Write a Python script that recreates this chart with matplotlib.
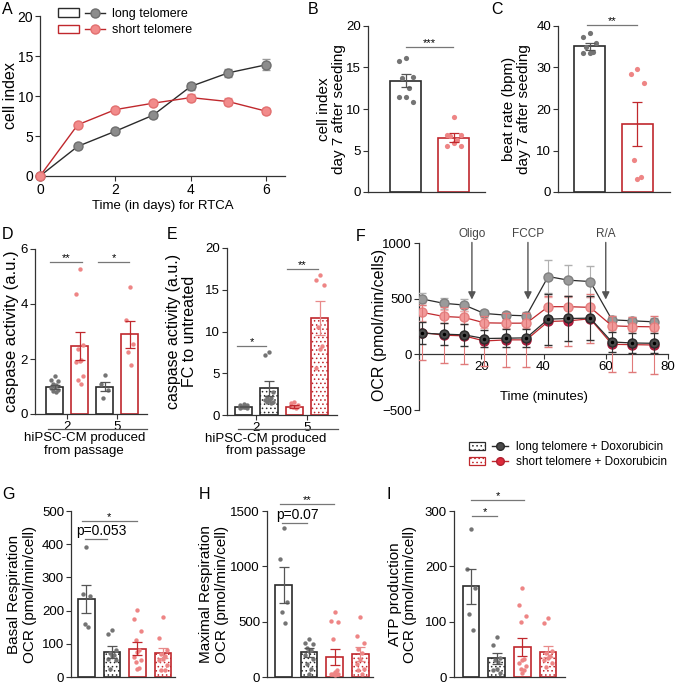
import numpy as np
import matplotlib.pyplot as plt
from matplotlib.patches import Patch
from matplotlib.lines import Line2D
from matplotlib.legend_handler import HandlerTuple

plt.rcParams['font.family'] = ['Liberation Sans', 'DejaVu Sans']
plt.rcParams['hatch.linewidth'] = 0.6

# couleurs
noir = '#2b2b2b'
rouge = '#c0282d'
gris_pt = '#747474'
rouge_pt = '#ee8585'

# ---- A : RTCA ----
jours = [0, 1, 2, 3, 4, 5, 6]
long_ci = [0, 3.7, 5.6, 7.6, 11.2, 12.9, 13.9]
long_ci_err = [0, 0.2, 0.2, 0.4, 0.4, 0.5, 0.7]
short_ci = [0, 6.4, 8.3, 9.1, 9.8, 9.3, 8.1]
short_ci_err = [0, 0.2, 0.2, 0.2, 0.4, 0.4, 0.4]

# ---- B : cell index jour 7 ----
b_moy = [13.4, 6.55]
b_sem = [0.8, 0.5]
b_long = [16.2, 15.8, 13.8, 13.7, 12.5, 11.4, 11.5, 10.9]
b_short = [9.0, 6.9, 6.9, 6.7, 6.3, 5.9, 5.6, 5.5]

# ---- C : beat rate ----
c_moy = [35.1, 16.4]
c_sem = [0.8, 5.3]
c_long = [38.2, 37.3, 35.9, 34.9, 33.7, 33.5, 33.5]
c_short = [29.7, 28.5, 26.3, 7.6, 3.2, 3.6]

# ---- D : caspase ----
d_moy = [0.98, 2.48, 0.99, 2.9]
d_sem = [0.07, 0.5, 0.17, 0.5]
d_pts = [
    [1.37, 1.25, 1.2, 1.1, 1.05, 1.0, 0.95, 0.88, 0.82, 0.8],
    [5.27, 4.35, 2.52, 2.35, 1.97, 1.93, 1.9, 1.37, 1.22, 1.1],
    [1.43, 1.1, 0.88, 0.58],
    [4.63, 3.43, 2.55, 2.25, 1.79],
]
passages = ['2', '5']

# ---- E : caspase FC ----
e_moy = [1.0, 3.2, 1.0, 11.6]
e_sem = [0.06, 0.9, 0.15, 2.05]
e_pts = [
    [1.3, 1.2, 1.15, 1.0, 0.95, 0.9, 0.85, 0.8],
    [7.6, 7.2, 2.8, 2.2, 2.0, 1.8, 1.8, 1.6, 1.6, 1.4],
    [1.4, 1.5, 1.2, 1.0, 0.8],
    [16.8, 16.2, 15.6, 10.5, 8.3, 7.9, 5.6],
]

# ---- F : Seahorse ----
temps_f = [1, 8, 14.5, 21, 28, 34.5, 41.5, 48, 55, 62, 68.5, 75.5]
ocr_long = [497, 458, 443, 367, 352, 346, 699, 666, 654, 310, 301, 292]
ocr_long_err = [55, 50, 50, 35, 30, 30, 150, 140, 140, 30, 30, 30]
ocr_short = [377, 340, 331, 283, 280, 280, 428, 428, 422, 256, 250, 247]
ocr_short_err = [80, 60, 60, 45, 40, 40, 90, 90, 90, 40, 40, 40]
ocr_long_dox = [190, 181, 175, 142, 145, 148, 316, 322, 325, 111, 102, 99]
ocr_long_dox_err = [100, 100, 100, 80, 80, 80, 230, 200, 200, 90, 90, 90]
ocr_short_dox = [196, 172, 166, 120, 130, 130, 295, 301, 319, 90, 87, 84]
ocr_short_dox_err = [250, 250, 250, 225, 245, 245, 233, 225, 220, 250, 250, 260]
injections = ['Oligo', 'FCCP', 'R/A']
temps_inj = [17, 35, 60]

# ---- G : basal ----
g_moy = [235, 75, 85, 73]
g_sem = [43, 17, 19, 15]
g_pts = [
    [392, 250, 243, 152, 160],
    [142, 130, 80, 72, 65, 62, 55, 50, 25],
    [203, 175, 140, 110, 80, 75, 60, 50, 28, 25, 45],
    [180, 118, 80, 70, 62, 55, 52, 35, 22, 22],
]

# ---- H : maximal ----
h_moy = [831, 222, 180, 210]
h_sem = [165, 42, 69, 62]
h_pts = [
    [1350, 1065, 675, 585, 489],
    [345, 309, 300, 264, 240, 234, 200, 165, 120, 75, 30],
    [585, 510, 495, 345, 60, 30, 24, 15, 24, 30, 45],
    [540, 369, 309, 255, 219, 165, 120, 75, 66, 30],
]

# ---- I : ATP ----
i_moy = [164, 34, 54, 46]
i_sem = [32, 10, 16, 10]
i_pts = [
    [267, 196, 160, 113, 85],
    [73, 57, 35, 30, 28, 15, 12, 8],
    [160, 131, 111, 100, 32, 26, 20, 14, 12, 8, 30],
    [106, 97, 47, 44, 38, 35, 30, 26, 18],
]

W, H = 676, 685
fig = plt.figure(figsize=(W / 100, H / 100), dpi=100)


def add_ax(l, t, r, b, ts=9.5):
    ax = fig.add_axes([l / W, 1 - b / H, (r - l) / W, (b - t) / H])
    for s in ['top', 'right']:
        ax.spines[s].set_visible(False)
    for s in ['left', 'bottom']:
        ax.spines[s].set_color('#333333')
        ax.spines[s].set_linewidth(0.9)
    ax.tick_params(direction='out', length=3.5, width=0.8, color='#333333',
                   labelsize=ts, pad=1.5)
    return ax


def lettre(x, y, t):
    fig.text(x / W, 1 - y / H, t, fontsize=11.5, va='top', ha='left')


def spread(vals, w):
    vals = np.asarray(vals)
    order = np.argsort(-vals)
    cyc = np.array([0, -1, 1, -0.5, 0.5])
    offs = np.empty(len(vals))
    offs[order] = w * cyc[np.arange(len(vals)) % 5]
    return offs


def sig(ax, x0, x1, y, txt, fs=8, dy=0.5, xt=None):
    ax.plot([x0, x1], [y, y], color='#777777', lw=0.9, clip_on=False)
    if xt is None:
        xt = (x0 + x1) / 2
    ax.annotate(txt, xy=(xt, y), xytext=(0, dy), textcoords='offset points',
                ha='center', va='baseline', fontsize=fs, annotation_clip=False)


def barres(ax, moy, sem, pts, edges, hatches, ptcols, errcols, width, s=10):
    x = np.arange(len(moy))
    for i in range(len(moy)):
        ax.bar(x[i], moy[i], width=width, facecolor='white', edgecolor=edges[i],
               hatch=hatches[i], linewidth=1.2, zorder=1)
        xs = x[i] + spread(pts[i], width * 0.22)
        ax.scatter(xs, pts[i], s=s, color=ptcols[i], zorder=3, linewidths=0,
                   clip_on=False)
        ax.errorbar(x[i], moy[i], yerr=sem[i], color=errcols[i], capsize=3.5,
                    elinewidth=0.9, capthick=0.9, zorder=4)
    ax.set_xticks([])
    return x


# ---------- A ----------
axA = add_ax(40, 16, 285, 176, ts=10)
axA.errorbar(jours, long_ci, yerr=long_ci_err, color=noir, lw=1, marker='o', ms=6.5,
             mfc='#8c8c8c', mec='#6e6e6e', ecolor='#9a9a9a', capsize=3, elinewidth=0.9,
             clip_on=False, zorder=3)
axA.errorbar(jours, short_ci, yerr=short_ci_err, color=rouge, lw=1, marker='o', ms=6.5,
             mfc='#f28b8b', mec='#e27070', ecolor='#f0a0a0', capsize=3, elinewidth=0.9,
             clip_on=False, zorder=3)
axA.set_xlim(0, 6.5)
axA.set_ylim(0, 20)
axA.set_xticks([0, 2, 4, 6])
axA.set_yticks([0, 5, 10, 15, 20])
axA.set_xlabel('Time (in days) for RTCA', fontsize=9.5, labelpad=2)
axA.set_ylabel('cell index', fontsize=11.5)
axA.yaxis.set_label_coords(-0.09, 0.5)
hA = [(Patch(facecolor='white', edgecolor=noir, lw=1),
       Line2D([], [], color=noir, lw=1, marker='o', ms=6.5, mfc='#8c8c8c', mec='#6e6e6e')),
      (Patch(facecolor='white', edgecolor=rouge, lw=1),
       Line2D([], [], color=rouge, lw=1, marker='o', ms=6.5, mfc='#f28b8b', mec='#e27070'))]
fig.legend(hA, ['long telomere', 'short telomere'], loc='upper left',
           bbox_to_anchor=(58 / W, 1 - 8 / H), frameon=False, fontsize=9,
           handler_map={tuple: HandlerTuple(ndivide=None, pad=0.5)},
           handlelength=3.8, handletextpad=0.5, labelspacing=0.35,
           borderpad=0, borderaxespad=0)
lettre(2, 2, 'A')

# ---------- B ----------
axB = add_ax(368, 26, 485, 192)
barres(axB, b_moy, b_sem, [b_long, b_short], [noir, rouge], [None, None],
       [gris_pt, rouge_pt], ['#555555', rouge], 0.65, s=14)
axB.set_xlim(-0.79, 1.65)
axB.set_ylim(0, 20)
axB.set_yticks([0, 5, 10, 15, 20])
axB.set_ylabel('cell index\nday 7 after seeding', fontsize=11, linespacing=1.1)
axB.yaxis.set_label_coords(-0.19, 0.5)
sig(axB, 0, 0.98, 17.5, '***')
lettre(308, 2, 'B')

# ---------- C ----------
axC = add_ax(558, 26, 670, 192)
barres(axC, c_moy, c_sem, [c_long, c_short], [noir, rouge], [None, None],
       [gris_pt, rouge_pt], ['#555555', rouge], 0.65, s=14)
axC.set_xlim(-0.66, 1.68)
axC.set_ylim(0, 40)
axC.set_yticks([0, 10, 20, 30, 40])
axC.set_ylabel('beat rate (bpm)\nday 7 after seeding', fontsize=11, linespacing=1.1)
axC.yaxis.set_label_coords(-0.24, 0.5)
sig(axC, -0.05, 0.99, 40.3, '**')
lettre(491, 2, 'C')

# ---------- D ----------
axD = add_ax(35, 249, 147, 414)
barres(axD, d_moy, d_sem, d_pts, [noir, rouge, noir, rouge], [None] * 4,
       [gris_pt, rouge_pt, gris_pt, rouge_pt], ['#555555', rouge, '#555555', rouge], 0.68)
axD.set_xlim(-0.78, 3.7)
axD.set_ylim(0, 6)
axD.set_yticks([0, 2, 4, 6])
axD.set_xticks([0.5, 2.5])
axD.set_xticklabels(passages)
axD.set_ylabel('caspase activity (a.u.)', fontsize=12)
axD.yaxis.set_label_coords(-0.143, 0.5)
sig(axD, -0.18, 1.1, 5.53, '**')
sig(axD, 1.74, 2.98, 5.53, '*')
axD.plot([0.116, 1.0], [-0.091, -0.091], color='#555555', lw=0.9,
         transform=axD.transAxes, clip_on=False)
axD.text(0.44, -0.11, 'hiPSC-CM produced\nfrom passage', transform=axD.transAxes,
         ha='center', va='top', fontsize=9.5, linespacing=1.1)
lettre(2, 227, 'D')

# ---------- E ----------
axE = add_ax(227, 248, 337, 415)
barres(axE, e_moy, e_sem, e_pts, [noir, noir, rouge, rouge], [None, '....', None, '....'],
       [gris_pt, gris_pt, rouge_pt, rouge_pt], ['#555555', '#555555', rouge, '#e88a8a'], 0.67)
axE.set_xlim(-0.65, 3.67)
axE.set_ylim(0, 20)
axE.set_yticks([0, 5, 10, 15, 20])
axE.set_xticks([0.5, 2.5])
axE.set_xticklabels(passages)
axE.set_ylabel('caspase activity (a.u.)\nFC to untreated', fontsize=11.5, linespacing=1.1)
axE.yaxis.set_label_coords(-0.27, 0.5)
sig(axE, -0.25, 0.88, 8.3, '*')
sig(axE, 1.7, 2.92, 17.5, '**')
axE.plot([0.1, 1.01], [-0.084, -0.084], color='#555555', lw=0.9,
         transform=axE.transAxes, clip_on=False)
axE.text(0.35, -0.105, 'hiPSC-CM produced\nfrom passage', transform=axE.transAxes,
         ha='center', va='top', fontsize=9.5, linespacing=1.1)
lettre(167, 227, 'E')

# ---------- F ----------
axF = add_ax(419, 243, 668, 410)
axF.errorbar(temps_f, ocr_long, yerr=ocr_long_err, color=noir, lw=0.9, marker='o', ms=6.5,
             mfc='#9a9a9a', mec='#808080', ecolor='#b0b0b0', capsize=3, elinewidth=0.8, zorder=3)
axF.errorbar(temps_f, ocr_short, yerr=ocr_short_err, color=rouge, lw=0.9, marker='o', ms=6.5,
             mfc='#f29a9a', mec='#e58080', ecolor='#f0b0b0', capsize=3, elinewidth=0.8, zorder=3)
axF.errorbar(temps_f, ocr_short_dox, yerr=ocr_short_dox_err, color=rouge, lw=0.9, marker='o',
             ms=6.5, mfc='#cc1f45', mec='#a8193a', ecolor='#e07a7a', capsize=3,
             elinewidth=0.8, zorder=4)
axF.errorbar(temps_f, ocr_long_dox, yerr=ocr_long_dox_err, color=noir, lw=0.9, marker='o',
             ms=6.5, mfc='#4a4a4a', mec='#2a2a2a', ecolor='#333333', capsize=3,
             elinewidth=0.8, zorder=5)
axF.plot(temps_f, ocr_long_dox, ls='none', marker='o', ms=1.5, color='black', zorder=6)
axF.plot(temps_f, ocr_short_dox, ls='none', marker='o', ms=1.5, color='#3a0000', zorder=4.5)
axF.set_xlim(0, 80)
axF.set_ylim(-500, 1000)
axF.spines['bottom'].set_position(('data', 0))
axF.set_xticks([20, 40, 60, 80])
axF.set_yticks([-500, 0, 500, 1000])
axF.set_xlabel('Time (minutes)', fontsize=9.5)
axF.xaxis.set_label_coords(0.5, 0.115)
axF.set_ylabel('OCR (pmol/min/cells)', fontsize=11.5)
axF.yaxis.set_label_coords(-0.13, 0.51)
for nom, t in zip(injections, temps_inj):
    axF.annotate('', xy=(t, 467), xytext=(t, 1030),
                 arrowprops=dict(arrowstyle='-|>', color='#555555', lw=1, mutation_scale=11))
    axF.text(t, 1078, nom, ha='center', va='center', fontsize=8.5, color='#444444')
lettre(356, 229, 'F')

hF = [(Patch(facecolor='white', edgecolor=noir, hatch='....', lw=0.9),
       Line2D([], [], color=noir, lw=1, marker='o', ms=5.5, mfc='#4a4a4a', mec='#2a2a2a')),
      (Patch(facecolor='white', edgecolor=rouge, hatch='....', lw=0.9),
       Line2D([], [], color=rouge, lw=1, marker='o', ms=5.5, mfc='#dd2a3a', mec='#b02030'))]
fig.legend(hF, ['long telomere + Doxorubicin', 'short telomere + Doxorubicin'],
           loc='upper left', bbox_to_anchor=(469 / W, 1 - 441 / H), frameon=False,
           fontsize=8.5, handler_map={tuple: HandlerTuple(ndivide=None, pad=0.6)},
           handlelength=3.3, handletextpad=0.7, labelspacing=0.25,
           borderpad=0, borderaxespad=0)

# ---------- G, H, I ----------
edges4 = [noir, noir, rouge, rouge]
hatch4 = [None, '....', None, '....']
ptc4 = [gris_pt, gris_pt, rouge_pt, rouge_pt]
errc4 = ['#555555', '#555555', rouge, '#e88a8a']

axG = add_ax(71, 511, 175, 677)
barres(axG, g_moy, g_sem, g_pts, edges4, hatch4, ptc4, errc4, 0.65)
axG.set_xlim(-0.6, 3.47)
axG.set_ylim(0, 500)
axG.set_yticks([0, 100, 200, 300, 400, 500])
axG.set_ylabel('Basal Respiration\nOCR (pmol/min/cell)', fontsize=11, linespacing=1.15)
axG.yaxis.set_label_coords(-0.33, 0.5)
sig(axG, -0.18, 1.98, 470, '*')
sig(axG, -0.06, 0.8, 416, 'p=0.053', fs=10, dy=2.5, xt=0.6)
lettre(2, 487, 'G')

axH = add_ax(267, 511, 373, 677)
barres(axH, h_moy, h_sem, h_pts, edges4, hatch4, ptc4, errc4, 0.65)
axH.set_xlim(-0.65, 3.5)
axH.set_ylim(0, 1500)
axH.set_yticks([0, 500, 1000, 1500])
axH.set_ylabel('Maximal Respiration\nOCR (pmol/min/cell)', fontsize=11, linespacing=1.15)
axH.yaxis.set_label_coords(-0.36, 0.5)
sig(axH, -0.14, 1.98, 1563, '**')
sig(axH, -0.06, 0.92, 1392, 'p=0.07', fs=10, dy=2.5, xt=0.53)
lettre(199, 487, 'H')

axI = add_ax(454, 511, 565, 677)
barres(axI, i_moy, i_sem, i_pts, edges4, hatch4, ptc4, errc4, 0.64)
axI.set_xlim(-0.66, 3.66)
axI.set_ylim(0, 300)
axI.set_yticks([0, 100, 200, 300])
axI.set_ylabel('ATP production\nOCR (pmol/min/cell)', fontsize=11, linespacing=1.15)
axI.yaxis.set_label_coords(-0.33, 0.5)
sig(axI, 0, 2.07, 320, '*')
sig(axI, 0.04, 1.02, 291, '*')
lettre(386, 487, 'I')

fig.savefig('out.png', dpi=100)
